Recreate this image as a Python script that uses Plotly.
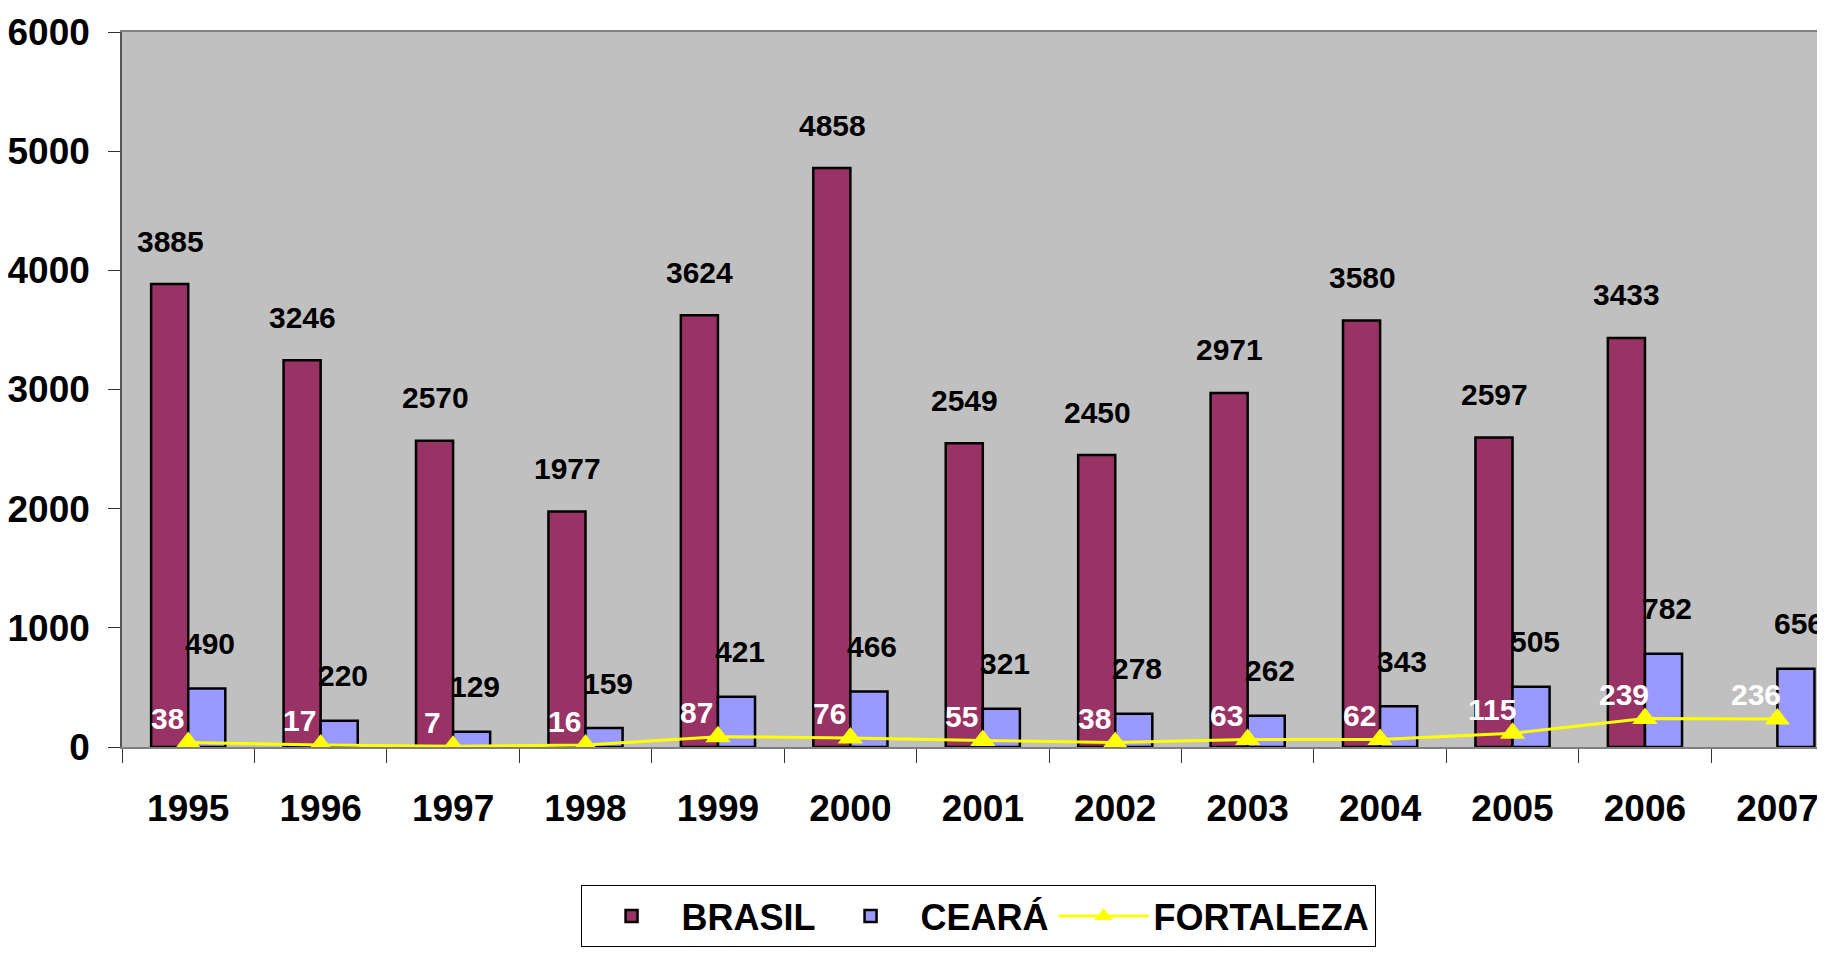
import plotly.graph_objects as go

years = ["1995", "1996", "1997", "1998", "1999", "2000", "2001",
         "2002", "2003", "2004", "2005", "2006", "2007"]
brasil = [3885, 3246, 2570, 1977, 3624, 4858, 2549, 2450, 2971, 3580, 2597, 3433, None]
ceara = [490, 220, 129, 159, 421, 466, 321, 278, 262, 343, 505, 782, 656]
fortaleza = [38, 17, 7, 16, 87, 76, 55, 38, 63, 62, 115, 239, 236]
y_ticks = [0, 1000, 2000, 3000, 4000, 5000, 6000]

FONT = "Liberation Sans, Arial, sans-serif"

fig = go.Figure()
fig.add_trace(go.Bar(name="BRASIL", x=years, y=brasil,
                     marker=dict(color="#993366", line=dict(color="black", width=2.5))))
fig.add_trace(go.Bar(name="CEARÁ", x=years, y=ceara,
                     marker=dict(color="#9999FF", line=dict(color="black", width=2.5))))
fig.add_trace(go.Scatter(name="FORTALEZA", x=years, y=fortaleza, mode="lines+markers",
                         line=dict(color="#FFFF00", width=3),
                         marker=dict(symbol="triangle-up", size=22, color="#FFFF00")))

ann = []
for i, v in enumerate(brasil):
    if v is not None:
        ann.append(dict(x=i, y=v, xref="x", yref="y", text=f"<b>{v}</b>", showarrow=False,
                        xshift=-18, yshift=43,
                        font=dict(family=FONT, size=30, color="black")))
for i, v in enumerate(ceara):
    ann.append(dict(x=i, y=v, xref="x", yref="y", text=f"<b>{v}</b>", showarrow=False,
                    xshift=22, yshift=45,
                    font=dict(family=FONT, size=30, color="black")))
for i, v in enumerate(fortaleza):
    ann.append(dict(x=i, y=v, xref="x", yref="y", text=f"<b>{v}</b>", showarrow=False,
                    xshift=-21, yshift=24,
                    font=dict(family=FONT, size=30, color="white")))

fig.update_layout(
    width=1825, height=956,
    margin=dict(l=114, r=0, t=24, b=217, autoexpand=False),
    paper_bgcolor="white", plot_bgcolor="#C0C0C0",
    barmode="group", bargap=0.44, bargroupgap=0,
    font=dict(family=FONT, color="black"),
    annotations=ann,
    showlegend=True,
    legend=dict(orientation="h", x=0.268, y=-0.193, xanchor="left", yanchor="top",
                bgcolor="white", bordercolor="black", borderwidth=1,
                font=dict(family=FONT, size=36, color="black", weight="bold"),
                itemwidth=90, traceorder="normal"),
    xaxis=dict(type="category", range=[-0.5, 12.42], showgrid=False, automargin=False,
               showline=True, linecolor="#808080", linewidth=2, mirror=True,
               ticks="outside", tickson="boundaries", ticklen=14, tickcolor="#333",
               tickfont=dict(family=FONT, size=37, color="black", weight="bold"),
               ticklabelstandoff=28),
    yaxis=dict(range=[0, 6000], tickvals=y_ticks, showgrid=False, zeroline=False,
               automargin=False,
               showline=True, linecolor="#555", linewidth=1.5,
               ticks="outside", ticklen=12, tickcolor="#333",
               tickfont=dict(family=FONT, size=37, color="black", weight="bold"),
               ticklabelstandoff=11),
)

fig.write_html("out.html")
